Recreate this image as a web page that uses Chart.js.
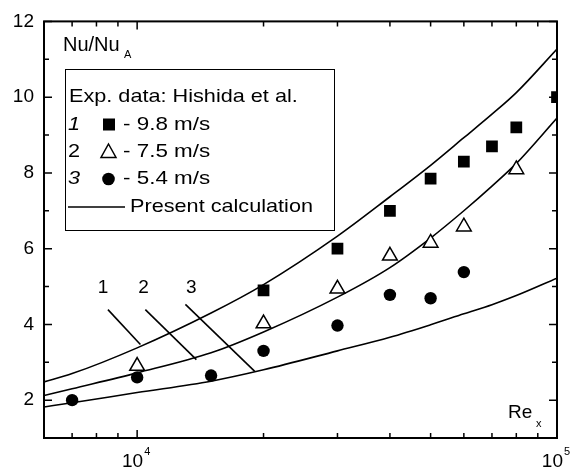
<!DOCTYPE html>
<html>
<head>
<meta charset="utf-8">
<script src="https://cdn.jsdelivr.net/npm/chart.js@4.4.1/dist/chart.umd.min.js"></script>
<style>
  html, body { margin: 0; padding: 0; background: #fff; }
  canvas { display: block; }
</style>
</head>
<body>
<canvas id="nuChart" width="582" height="470"></canvas>
<script>
// Data

// present calculation, curves 1..3
var calcRe = [6000, 7000, 10000, 15000, 20000, 30000, 40000, 50000, 60000, 70000, 80000, 100000];
var calc1 = [2.48, 2.7, 3.38, 4.3, 5.05, 6.33, 7.37, 8.2, 8.93, 9.55, 10.12, 11.27];
var calc2 = [2.12, 2.3, 2.72, 3.25, 3.8, 4.72, 5.5, 6.28, 7.0, 7.65, 8.25, 9.45];
var calc3 = [1.82, 1.93, 2.2, 2.5, 2.8, 3.3, 3.66, 3.99, 4.28, 4.52, 4.76, 5.22];

// exp. data (Hishida et al.)
var exp1Re = [20000, 30000, 40000, 50000, 60000, 70000, 80000, 100000];
var exp1Nu = [4.9, 6.0, 7.0, 7.85, 8.3, 8.7, 9.2, 10.0];
var exp2Re = [10000, 20000, 30000, 40000, 50000, 60000, 80000];
var exp2Nu = [2.9, 4.02, 4.94, 5.81, 6.15, 6.58, 8.09];
var exp3Re = [7000, 10000, 15000, 20000, 30000, 40000, 50000, 60000];
var exp3Nu = [2.0, 2.6, 2.65, 3.3, 3.97, 4.78, 4.69, 5.38];

// pointer lines to the curves, and their labels
var pointerRe = [[8520, 10180], [10460, 13840], [13030, 19060]];
var pointerNu = [[4.39, 3.47], [4.39, 3.07], [4.53, 2.76]];
var pointerLabels = ['1', '2', '3'];
var pointerLabelRe = [8290, 10360, 13460];
var pointerLabelNu = 4.96;

var yTicks = [2, 4, 6, 8, 10, 12];
var xMajor = [10000, 100000];
var xMinor = [6000, 7000, 8000, 9000, 20000, 30000, 40000, 50000, 60000, 70000, 80000, 90000];

var FONT = '"Liberation Sans", Arial, sans-serif';

function pts(xs, ys) {
  return xs.map(function (x, i) { return { x: x, y: ys[i] }; });
}

var datasets = [
  {
    data: pts(exp1Re, exp1Nu), pointStyle: 'rect', pointRadius: 8.3,
    backgroundColor: '#000', borderColor: '#000', borderWidth: 0, showLine: false, clip: 0
  },
  {
    data: pts(exp2Re, exp2Nu), pointStyle: 'triangle', pointRadius: 8.5,
    backgroundColor: '#fff', borderColor: '#000', borderWidth: 1.5, showLine: false
  },
  {
    data: pts(exp3Re, exp3Nu), pointStyle: 'circle', pointRadius: 6.2,
    backgroundColor: '#000', borderColor: '#000', borderWidth: 0, showLine: false
  }
];

[calc1, calc2, calc3].forEach(function (c) {
  datasets.push({
    data: pts(calcRe, c), showLine: true, pointRadius: 0, borderColor: '#000',
    borderWidth: 1.6, cubicInterpolationMode: 'monotone', clip: 0
  });
});

pointerRe.forEach(function (xs, i) {
  datasets.push({
    data: pts(xs, pointerNu[i]), showLine: true, pointRadius: 0,
    borderColor: '#000', borderWidth: 1.6
  });
});

// text drawn a bit wider, like the original
function wideText(ctx, t, x, y, sx) {
  ctx.save();
  ctx.translate(x, y);
  ctx.scale(sx, 1);
  ctx.fillText(t, 0, 0);
  ctx.restore();
}

// frame, inward ticks, x labels, legend and other text
var decor = {
  id: 'decor',
  afterDraw: function (chart) {
    var ctx = chart.ctx;
    var a = chart.chartArea;
    var xs = chart.scales.x, ys = chart.scales.y;
    ctx.save();
    ctx.strokeStyle = '#000';
    ctx.fillStyle = '#000';

    // ticks
    ctx.lineWidth = 1.5;
    ctx.beginPath();
    function xTick(v, len) {
      var px = xs.getPixelForValue(v);
      ctx.moveTo(px, a.bottom); ctx.lineTo(px, a.bottom - len);
      ctx.moveTo(px, a.top); ctx.lineTo(px, a.top + len);
    }
    function yTick(v, len) {
      var py = ys.getPixelForValue(v);
      ctx.moveTo(a.left, py); ctx.lineTo(a.left + len, py);
      ctx.moveTo(a.right, py); ctx.lineTo(a.right - len, py);
    }
    xMajor.forEach(function (v) { xTick(v, 8); });
    xMinor.forEach(function (v) { xTick(v, 5); });
    for (var v = 1; v <= 12; v++) {
      yTick(v, yTicks.indexOf(v) >= 0 ? 8 : 5);
    }
    ctx.stroke();

    // frame
    ctx.lineWidth = 2;
    ctx.strokeRect(a.left, a.top, a.right - a.left, a.bottom - a.top);

    // x tick labels 10^4, 10^5
    ctx.textBaseline = 'alphabetic';
    xMajor.forEach(function (v) {
      var px = xs.getPixelForValue(v);
      ctx.font = '19px ' + FONT;
      ctx.textAlign = 'right';
      ctx.fillText('10', px + 6, 467);
      ctx.font = '11px ' + FONT;
      ctx.textAlign = 'left';
      ctx.fillText(String(Math.round(Math.log10(v))), px + 7, 455);
    });

    // axis titles inside the plot
    ctx.textAlign = 'left';
    ctx.font = '20px ' + FONT;
    ctx.fillText('Nu/Nu', 63, 51);
    ctx.font = '11px ' + FONT;
    ctx.fillText('A', 124, 58);
    ctx.font = '19px ' + FONT;
    ctx.fillText('Re', 508, 418);
    ctx.font = '11px ' + FONT;
    ctx.fillText('x', 536, 427);

    // pointer labels
    ctx.font = '19px ' + FONT;
    ctx.textAlign = 'center';
    ctx.textBaseline = 'middle';
    pointerLabels.forEach(function (t, i) {
      ctx.fillText(t, xs.getPixelForValue(pointerLabelRe[i]), ys.getPixelForValue(pointerLabelNu));
    });

    // legend box
    ctx.lineWidth = 1;
    ctx.strokeRect(65.5, 69.5, 269, 161);
    ctx.textAlign = 'left';
    ctx.font = '19px ' + FONT;
    wideText(ctx, 'Exp. data: Hishida et al.', 69, 97, 1.14);
    var rows = [
      { n: '1', italic: true, y: 124.5, text: '- 9.8 m/s' },
      { n: '2', italic: false, y: 152, text: '- 7.5 m/s' },
      { n: '3', italic: true, y: 179, text: '- 5.4 m/s' }
    ];
    rows.forEach(function (r) {
      ctx.font = (r.italic ? 'italic ' : '') + '19px ' + FONT;
      wideText(ctx, r.n, 68, r.y, 1.14);
      ctx.font = '19px ' + FONT;
      wideText(ctx, r.text, 123, r.y, 1.18);
    });
    // legend markers
    ctx.fillRect(103, 118.5, 12, 12);
    ctx.beginPath();
    ctx.moveTo(108.5, 144); ctx.lineTo(116, 157.5); ctx.lineTo(101, 157.5); ctx.closePath();
    ctx.lineWidth = 1.5;
    ctx.stroke();
    ctx.beginPath();
    ctx.arc(108.5, 179, 6.3, 0, Math.PI * 2);
    ctx.fill();
    ctx.beginPath();
    ctx.moveTo(68, 207); ctx.lineTo(125, 207);
    ctx.stroke();
    wideText(ctx, 'Present calculation', 130, 207, 1.14);

    ctx.restore();
  }
};

var nuChart = new Chart(document.getElementById('nuChart'), {
  type: 'scatter',
  data: { datasets: datasets },
  options: {
    responsive: false,
    animation: false,
    devicePixelRatio: 1,
    layout: { padding: { top: 20, right: 25, left: 0, bottom: 0 } },
    plugins: {
      legend: { display: false },
      tooltip: { enabled: false }
    },
    scales: {
      x: {
        type: 'logarithmic',
        min: 6000,
        max: 100000,
        grid: { display: false, drawTicks: false },
        border: { display: false },
        ticks: { display: false },
        afterFit: function (s) { s.height = 32; }
      },
      y: {
        min: 1,
        max: 12,
        grid: { display: false, drawTicks: false },
        border: { display: false },
        ticks: {
          stepSize: 1,
          padding: 10,
          color: '#000',
          font: { family: FONT, size: 19 },
          callback: function (v) { return yTicks.indexOf(v) >= 0 ? v : ''; }
        },
        afterFit: function (s) { s.width = 44; }
      }
    }
  },
  plugins: [decor]
});
</script>
</body>
</html>
